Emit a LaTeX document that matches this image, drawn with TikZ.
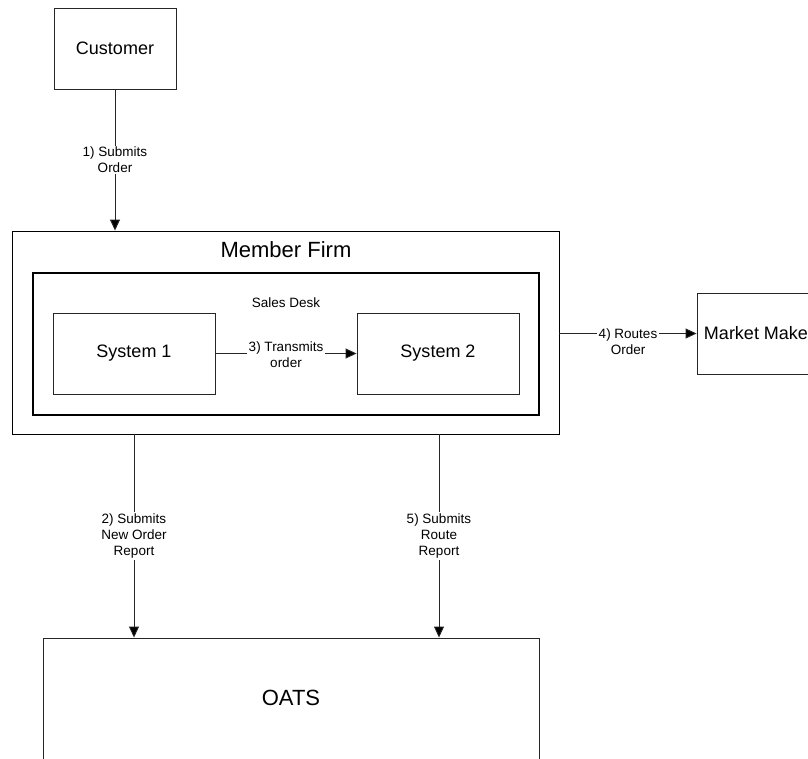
\documentclass[tikz,border=0pt]{standalone}
\usepackage{fontspec}
\setmainfont{Liberation Sans}
\usetikzlibrary{arrows.meta}
\begin{document}
\begin{tikzpicture}[x=1pt,y=-1pt,
  box/.style={draw=black!85, line width=0.9pt, rectangle, inner sep=0pt, font=\fontsize{18}{21}\selectfont},
  bigtxt/.style={inner sep=0pt, font=\fontsize{22}{26}\selectfont},
  smalltxt/.style={inner sep=0pt, font=\fontsize{13.5}{16}\selectfont},
  lbl/.style={fill=white, inner sep=1.5pt, align=center, font=\fontsize{13.5}{16}\selectfont},
  arr/.style={draw=black!85, line width=0.9pt, -{Triangle[length=11pt,width=10pt,fill=black]}}
]
\useasboundingbox (0,0) rectangle (808,758);
\clip (0,0) rectangle (808,758);
\fill[white] (0,0) rectangle (808,758);

\node[box, minimum width=122, minimum height=81] (cust) at (115,48.5) {Customer};
\node[box, draw=black, minimum width=547, minimum height=203] (mf) at (285.5,332.5) {};
\node[bigtxt] (mftitle) at (286,250) {Member Firm};
\node[box, draw=black, line width=1.8pt, minimum width=506, minimum height=142] (sd) at (286,344) {};
\node[smalltxt] (sdtitle) at (286,303) {Sales Desk};
\node[box, minimum width=162, minimum height=81] (s1) at (134,353.5) {System 1};
\node[box, minimum width=162, minimum height=81] (s2) at (438,353.5) {System 2};
\node[box, minimum width=124, minimum height=81] (mm) at (759,333.5) {Market Maker};
\node[box, minimum width=496, minimum height=142] (oats) at (291,709) {};
\node[bigtxt] (oatstxt) at (291,698) {OATS};

\coordinate (c2) at (134,0);
\coordinate (c5) at (439,0);

\draw[arr] (cust.south) -- node[lbl, midway] {1) Submits\\Order} (mf.north -| cust.south);
\draw[arr] (s1.east) -- node[lbl, midway, yshift=-1pt] {3) Transmits\\order} (s2.west);
\draw[arr] (mf.east |- mm.west) -- node[lbl, midway, yshift=-8pt] {4) Routes\\Order} (mm.west);
\draw[arr] (mf.south -| c2) -- node[lbl, midway] {2) Submits\\New Order\\Report} (oats.north -| c2);
\draw[arr] (mf.south -| c5) -- node[lbl, midway] {5) Submits\\Route\\Report} (oats.north -| c5);
\end{tikzpicture}
\end{document}
